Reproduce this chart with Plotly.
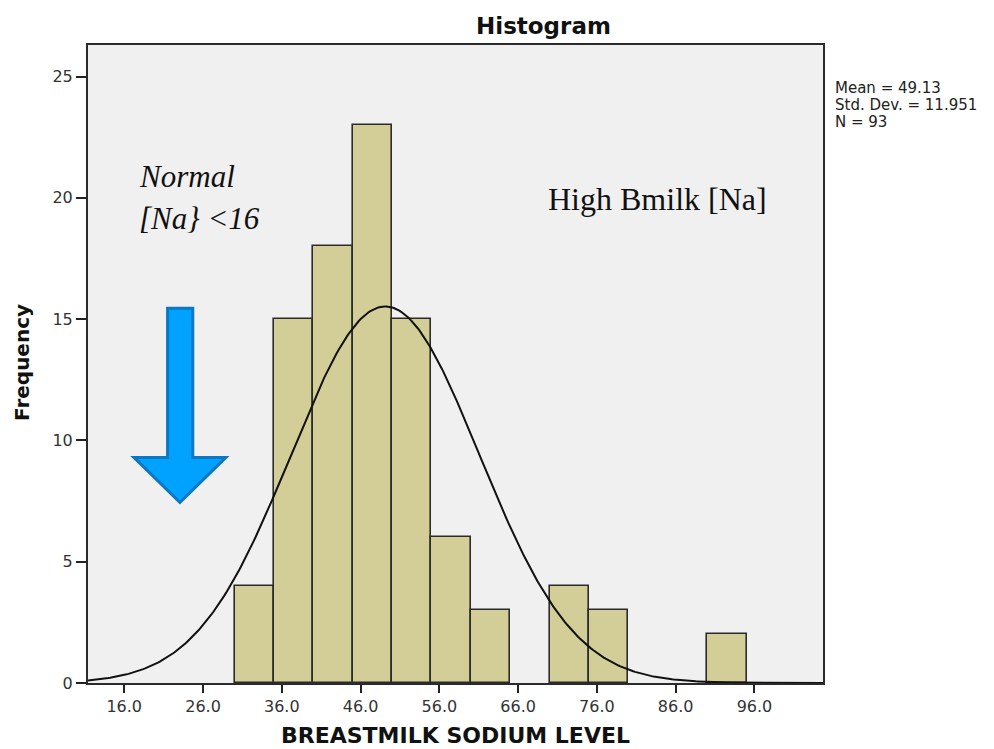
import numpy as np
import plotly.graph_objects as go

# ---- data ----
bin_starts = [30, 35, 40, 45, 50, 55, 60, 70, 75, 90]
bin_width = 5
counts = [4, 15, 18, 23, 15, 6, 3, 4, 3, 2]
mean_val = 49.13
std_val = 11.951
n_val = 93
x_ticks = [16, 26, 36, 46, 56, 66, 76, 86, 96]
y_ticks = [0, 5, 10, 15, 20, 25]
stats_lines = ["Mean = 49.13", "Std. Dev. = 11.951", "N = 93"]

x_range = [11.4, 104.7]
y_range = [0, 26.3]

SANS = "DejaVu Sans, Verdana, sans-serif"
SERIF = "Liberation Serif, Times New Roman, serif"

centers = [s + bin_width / 2 for s in bin_starts]

fig = go.Figure()
fig.add_trace(go.Bar(
    x=centers, y=counts, width=[bin_width] * len(counts),
    marker=dict(color="#D3CE97", line=dict(color="#2b2b2b", width=1.6)),
    hoverinfo="skip", showlegend=False,
))

xs = np.linspace(x_range[0], x_range[1], 400)
ys = n_val * bin_width / (std_val * np.sqrt(2 * np.pi)) * np.exp(-0.5 * ((xs - mean_val) / std_val) ** 2)
fig.add_trace(go.Scatter(x=xs, y=ys, mode="lines", line=dict(color="#111111", width=2),
                         hoverinfo="skip", showlegend=False))

# blue arrow (data coordinates)
arrow = [(21.5, 15.45), (24.7, 15.45), (24.7, 9.3), (28.9, 9.3), (23.07, 7.44), (17.23, 9.3), (21.5, 9.3)]
path = "M " + " L ".join(f"{x},{y}" for x, y in arrow) + " Z"
fig.add_shape(type="path", path=path, xref="x", yref="y",
              fillcolor="#00A2FF", line=dict(color="#0A78C2", width=3), layer="above")

fig.update_layout(
    width=994, height=749,
    margin=dict(l=88, r=171, t=45, b=66),
    paper_bgcolor="white", plot_bgcolor="#F0F0F0",
    bargap=0,
    font=dict(family=SANS, color="#222222"),
    xaxis=dict(range=x_range, tickvals=x_ticks, ticktext=[f"{v:.1f}" for v in x_ticks],
               ticks="outside", ticklen=8, tickwidth=2, tickcolor="#222",
               showgrid=False, zeroline=False, showline=True, linecolor="#2b2b2b", linewidth=2,
               mirror=True, tickfont=dict(size=16, color="#333", family=SANS), automargin=False),
    yaxis=dict(range=y_range, tickvals=y_ticks,
               ticks="outside", ticklen=10, tickwidth=2, tickcolor="#222",
               showgrid=False, zeroline=False, showline=True, linecolor="#2b2b2b", linewidth=2,
               mirror=True, tickfont=dict(size=16, color="#333", family=SANS), automargin=False),
)

PL, PR, PT, PB = 88, 823, 45, 683


def px_to_paper(px, py):
    return (px - PL) / (PR - PL), (PB - py) / (PB - PT)


# titles as annotations (pixel positions converted to paper coords)
tx, ty = px_to_paper(543, 26)
fig.add_annotation(text="<b>Histogram</b>", xref="paper", yref="paper", x=tx, y=ty,
                   xanchor="center", yanchor="middle", showarrow=False,
                   font=dict(size=23, color="#111", family=SANS))
tx, ty = px_to_paper(455, 735)
fig.add_annotation(text="<b>BREASTMILK SODIUM LEVEL</b>", xref="paper", yref="paper", x=tx, y=ty,
                   xanchor="center", yanchor="middle", showarrow=False,
                   font=dict(size=22, color="#111", family=SANS))
tx, ty = px_to_paper(22, 363)
fig.add_annotation(text="<b>Frequency</b>", xref="paper", yref="paper", x=tx, y=ty, textangle=-90,
                   xanchor="center", yanchor="middle", showarrow=False,
                   font=dict(size=20, color="#111", family=SANS))

for i, line in enumerate(stats_lines):
    tx, ty = px_to_paper(834, 88 + 17 * i)
    fig.add_annotation(text=line, xref="paper", yref="paper", x=tx, y=ty,
                       xanchor="left", yanchor="middle", showarrow=False, borderpad=0,
                       font=dict(size=15, color="#222", family=SANS))

fig.add_annotation(text="<i>Normal</i>", x=17.6, y=20.9, xref="x", yref="y",
                   xanchor="left", yanchor="middle", showarrow=False,
                   font=dict(size=31, color="#111", family=SERIF))
fig.add_annotation(text="<i>[Na} &lt;16</i>", x=17.6, y=19.13, xref="x", yref="y",
                   xanchor="left", yanchor="middle", showarrow=False,
                   font=dict(size=31, color="#111", family=SERIF))
fig.add_annotation(text="High Bmilk [Na]", x=83.65, y=19.96, xref="x", yref="y",
                   xanchor="center", yanchor="middle", showarrow=False,
                   font=dict(size=32, color="#111", family=SERIF))

fig.write_html("out.html")
